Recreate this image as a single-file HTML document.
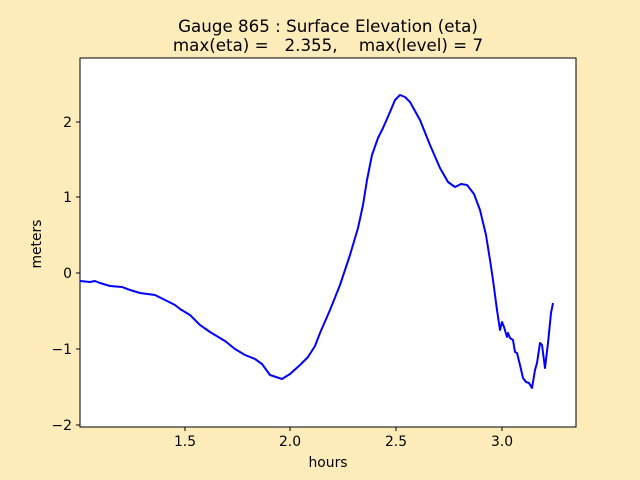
<!DOCTYPE html>
<html><head><style>
body{margin:0;background:#ffecbb;}
svg{display:block;font-family:"DejaVu Sans","Liberation Sans",sans-serif;}
</style></head><body>
<svg width="640" height="480" viewBox="0 0 640 480">
<rect width="640" height="480" fill="#ffecbb"/>
<rect x="80" y="58" width="496" height="369" fill="#fff" stroke="#000" stroke-width="1"/>
<text x="328" y="32" font-size="16.7" text-anchor="middle">Gauge 865 : Surface Elevation (eta)</text>
<text x="328" y="51" font-size="16.7" text-anchor="middle" xml:space="preserve">max(eta) =   2.355,    max(level) = 7</text>
<g stroke="#000" stroke-width="1">
<line x1="185" y1="427" x2="185" y2="431"/><line x1="290" y1="427" x2="290" y2="431"/>
<line x1="396" y1="427" x2="396" y2="431"/><line x1="502" y1="427" x2="502" y2="431"/>
<line x1="76" y1="122" x2="80" y2="122"/><line x1="76" y1="197" x2="80" y2="197"/>
<line x1="76" y1="273" x2="80" y2="273"/><line x1="76" y1="349" x2="80" y2="349"/>
<line x1="76" y1="425" x2="80" y2="425"/>
</g>
<g font-size="13.9" text-anchor="middle">
<text x="185" y="446">1.5</text><text x="290" y="446">2.0</text><text x="396" y="446">2.5</text><text x="502" y="446">3.0</text>
<text x="328" y="467">hours</text>
</g>
<g font-size="13.9" text-anchor="end">
<text x="72" y="127">2</text><text x="72" y="202">1</text><text x="72" y="278">0</text><text x="72" y="354">−1</text><text x="72" y="430">−2</text>
</g>
<text transform="translate(41,244) rotate(-90)" font-size="13.9" text-anchor="middle">meters</text>
<polyline fill="none" stroke="#0000ff" stroke-width="2" stroke-linejoin="round" points="80,281 90,282 95,281 100,283 110,286 122,287 130,290 140,293 155,295 165,300 175,305 180,309 190,315 200,325 210,332 225,341 235,349 245,355 255,359 262,364 270,375 282,379 290,374 300,365 308,357 315,346 320,333 330,310 340,285 350,255 358,228 363,205 367,180 372,155 378,138 383,128 390,112 395,100 400,95 405,97 410,102 420,120 430,145 440,168 448,182 455,187 461,184 467,185 474,194 480,210 486,235 490,260 493,280 497,310 500,330 502,322 504,327 507,337 508,333 510,338 513,340 515,352 517,353 520,365 523,378 526,382 529,383 532,388 535,370 537,363 540,343 542,345 545,368 548,343 551,313 553,303"/>
</svg>
</body></html>
